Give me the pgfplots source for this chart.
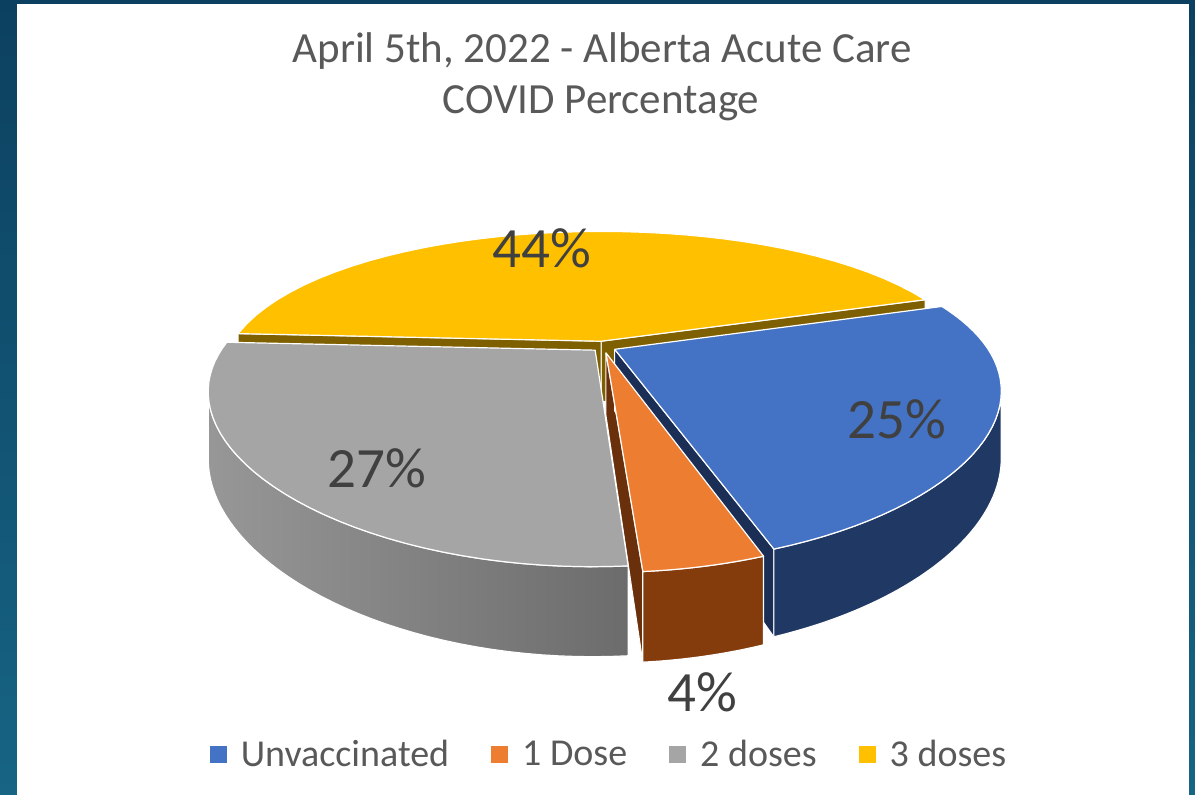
\documentclass[border=0pt]{standalone}
\usepackage{pgfplots}
\pgfplotsset{compat=1.18}
\usepackage{pgfplotstable}
\usepackage{fontspec}
\setmainfont{Carlito}

\definecolor{cBlue}{HTML}{4472C4}
\definecolor{cBlueWall}{HTML}{203864}
\definecolor{cBlueCut}{HTML}{1B2F56}
\definecolor{cOrange}{HTML}{ED7D31}
\definecolor{cOrangeWall}{HTML}{843C0C}
\definecolor{cOrangeCut}{HTML}{6A300B}
\definecolor{cGray}{HTML}{A5A5A5}
\definecolor{cGrayWallL}{HTML}{979797}
\definecolor{cGrayWallR}{HTML}{6C6C6C}
\definecolor{cYellow}{HTML}{FFC000}
\definecolor{cYellowCut}{HTML}{7F6000}
\definecolor{cTitle}{HTML}{595959}
\definecolor{cLabel}{HTML}{404040}
\definecolor{bgTop}{HTML}{0C4060}
\definecolor{bgBot}{HTML}{176484}

\pgfplotstableread[col sep=comma]{
name,value
Unvaccinated,25
1 Dose,4
2 doses,27
3 doses,44
}\piedata

\pgfplotstablegetelem{0}{value}\of\piedata\let\vA\pgfplotsretval
\pgfplotstablegetelem{1}{value}\of\piedata\let\vB\pgfplotsretval
\pgfplotstablegetelem{2}{value}\of\piedata\let\vC\pgfplotsretval
\pgfplotstablegetelem{3}{value}\of\piedata\let\vD\pgfplotsretval

% angles (degrees, counterclockwise), slices run clockwise from the start angle
\pgfmathsetmacro\aBb{18.5}
\pgfmathsetmacro\aBa{\aBb-3.6*\vA}
\pgfmathsetmacro\aOb{\aBa}
\pgfmathsetmacro\aOa{\aOb-3.6*\vB}
\pgfmathsetmacro\aGb{\aOa}
\pgfmathsetmacro\aGa{\aGb-3.6*\vC}
\pgfmathsetmacro\aYb{\aGa}
\pgfmathsetmacro\aYa{\aYb-3.6*\vD}
% explosion offsets
\pgfmathsetmacro\oxB{0.035*cos((\aBa+\aBb)/2)}
\pgfmathsetmacro\oyB{0.035*sin((\aBa+\aBb)/2)}
\pgfmathsetmacro\oxO{0.040*cos((\aOa+\aOb)/2)}
\pgfmathsetmacro\oyO{0.040*sin((\aOa+\aOb)/2)}
\pgfmathsetmacro\oxG{0.030*cos((\aGa+\aGb)/2)}
\pgfmathsetmacro\oyG{0.030*sin((\aGa+\aGb)/2)}
\pgfmathsetmacro\oxY{0.040*cos((\aYa+\aYb)/2)}
\pgfmathsetmacro\oyY{0.040*sin((\aYa+\aYb)/2)}
% visible front wall ranges
\pgfmathsetmacro\wGa{max(\aGa,-165)}
\pgfmathsetmacro\wGb{min(\aGb,-15)}
\pgfmathsetmacro\wOa{max(\aOa,-165)}
\pgfmathsetmacro\wOb{min(\aOb,-15)}
\pgfmathsetmacro\wBa{max(\aBa,-165)}
\pgfmathsetmacro\wBb{min(\aBb,-15)}

% top face: #1 style, #2 ox, #3 oy, #4 a1, #5 a2
\newcommand\pietop[5]{%
\addplot[forget plot, #1, draw=white, line width=1.2pt, line join=round,
  samples at={0,1,...,42}, variable=\t,
  declare function={ang(\s)=(#4)+((#5)-(#4))*min(min(\s,40),(42-\s)*40)/40; rr(\s)=min(1,abs(\s-41));}]
  ({PX((#2)+rr(\t)*cos(ang(\t)),(#3)+rr(\t)*sin(ang(\t)))},
   {PY((#2)+rr(\t)*cos(ang(\t)),(#3)+rr(\t)*sin(ang(\t)),0)});}
% outer wall: #1 style, #2 ox, #3 oy, #4 w1, #5 w2
\newcommand\piewall[5]{%
\addplot[forget plot, #1, draw=white, line width=1.2pt, line join=round,
  samples at={0,1,...,82}, variable=\t,
  declare function={ang(\s)=(#4)+((#5)-(#4))*max(min(\s,81-\s),0)/40; zz(\s)=min(max(\s-40,0),1)*min(max(82-\s,0),1);}]
  ({PX((#2)+cos(ang(\t)),(#3)+sin(ang(\t)))},
   {PY((#2)+cos(ang(\t)),(#3)+sin(ang(\t)),zz(\t))});}
% cut face: #1 style, #2 ox, #3 oy, #4 angle
\newcommand\piecut[4]{%
\addplot[forget plot, #1, draw=white, line width=1pt, line join=round,
  samples at={0,1,2,3,4}, variable=\t,
  declare function={rr(\s)=max(min(min(\s,3-\s),1),0); zz(\s)=min(max(\s-1,0),1)*min(max(4-\s,0),1);}]
  ({PX((#2)+rr(\t)*cos(#4),(#3)+rr(\t)*sin(#4))},
   {PY((#2)+rr(\t)*cos(#4),(#3)+rr(\t)*sin(#4),zz(\t))});}

\begin{document}
\begin{tikzpicture}
\begin{axis}[
  width=1195pt, height=795pt, scale only axis,
  xmin=0, xmax=1195, ymin=0, ymax=795, y dir=reverse,
  hide axis, clip=false,
  declare function={
    PX(\x,\y)=603+372*\x/(1+0.25*\y);
    PY(\x,\y,\z)=347-(147*\y-61.5*\z)/(1+0.31*\y);
  },
  legend columns=4,
  legend style={at={(axis cs:609,754)}, anchor=center, draw=none, fill=none,
    font=\fontsize{38}{44}\selectfont, text=cTitle, inner sep=0pt,
    /tikz/every odd column/.append style={column sep=12pt},
    /tikz/every even column/.append style={column sep=40pt}},
  legend image code/.code={\fill[#1] (0pt,-8.5pt) rectangle (17pt,8.5pt);},
]
% background frame
\fill[top color=bgTop, bottom color=bgBot] (axis cs:0,0) rectangle (axis cs:1195,795);
\fill[white] (axis cs:17,3.5) rectangle (axis cs:1188.5,795);

\addlegendimage{fill=cBlue, draw=none}
\addlegendimage{fill=cOrange, draw=none}
\addlegendimage{fill=cGray, draw=none}
\addlegendimage{fill=cYellow, draw=none}
\legend{Unvaccinated, 1 Dose, 2 doses, 3 doses}

% cut faces (visible ones)
\piecut{fill=cYellowCut}{\oxY}{\oyY}{\aYa}
\piecut{fill=cYellowCut}{\oxY}{\oyY}{\aYb}
\piecut{fill=cOrangeCut}{\oxO}{\oyO}{\aOa}
\piecut{fill=cBlueCut}{\oxB}{\oyB}{\aBa}
% outer walls
\piewall{left color=cGrayWallL, right color=cGrayWallR}{\oxG}{\oyG}{\wGa}{\wGb}
\piewall{fill=cOrangeWall}{\oxO}{\oyO}{\wOa}{\wOb}
\piewall{fill=cBlueWall}{\oxB}{\oyB}{\wBa}{\wBb}
% top faces
\pietop{fill=cYellow}{\oxY}{\oyY}{\aYa}{\aYb}
\pietop{fill=cGray}{\oxG}{\oyG}{\aGa}{\aGb}
\pietop{fill=cBlue}{\oxB}{\oyB}{\aBa}{\aBb}
\pietop{fill=cOrange}{\oxO}{\oyO}{\aOa}{\aOb}

% data labels
\node[anchor=base, text=cLabel, font=\fontsize{57}{60}\selectfont] at (axis cs:542,267) {\vD\%};
\node[anchor=base, text=cLabel, font=\fontsize{57}{60}\selectfont] at (axis cs:897,438) {\vA\%};
\node[anchor=base, text=cLabel, font=\fontsize{57}{60}\selectfont] at (axis cs:377,487) {\vC\%};
\node[anchor=base, text=cLabel, font=\fontsize{57}{60}\selectfont] at (axis cs:702,711) {\vB\%};

% title
\node[anchor=base, text=cTitle, font=\fontsize{43}{51}\selectfont] at (axis cs:602,62) {April 5th, 2022 - Alberta Acute Care};
\node[anchor=base, text=cTitle, font=\fontsize{43}{51}\selectfont] at (axis cs:601,113) {COVID Percentage};
\end{axis}
\end{tikzpicture}
\end{document}
